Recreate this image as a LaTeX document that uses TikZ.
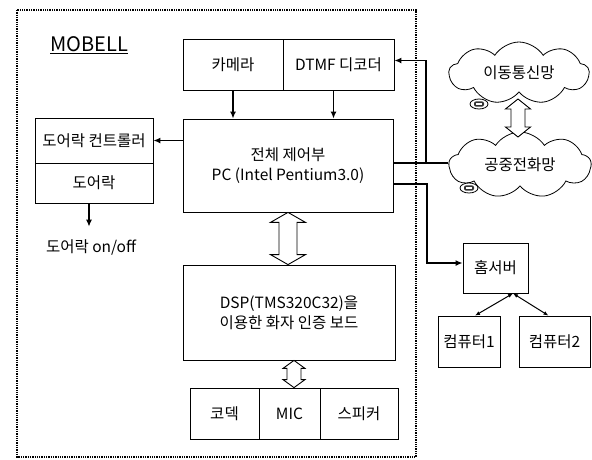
\documentclass[tikz,border=0pt]{standalone}
\usepackage{fontspec}
\setmainfont{Noto Sans CJK KR}
\usetikzlibrary{arrows.meta,shapes.symbols,calc}
% hollow double arrow: tip 1, tip 2, half head, half shaft, head length
\newcommand{\fatarrow}[5]{\draw[hollow] (#1) -- ($(#1)+(#3,#5)$) -- ($(#1)+(#4,#5)$) -- ($(#2)+(#4,-#5)$) -- ($(#2)+(#3,-#5)$) -- (#2) -- ($(#2)+(-#3,-#5)$) -- ($(#2)+(-#4,-#5)$) -- ($(#1)+(-#4,#5)$) -- ($(#1)+(-#3,#5)$) -- cycle;}
\begin{document}
\begin{tikzpicture}[x=1pt, y=-1pt]
\tikzset{blk/.style={draw, line width=0.8pt, inner sep=0pt, align=center, font=\fontsize{15.5}{20}\selectfont},
  lbl/.style={font=\fontsize{15.5}{20}\selectfont},
  net/.style={cloud, cloud puffs=9, cloud puff arc=115, cloud ignores aspect, draw, line width=0.8pt, inner sep=0pt, font=\fontsize{15.5}{20}\selectfont},
  conn/.style={line width=1.9pt}, tip/.style={-{Latex[length=7pt,width=6pt]}},
  hollow/.style={draw, line width=0.9pt, fill=white, line join=miter},
  phone/.pic={\draw[line width=0.8pt, fill=white] (0,0) ellipse [x radius=9, y radius=5]; \fill[black!80, rounded corners=2pt] (-5,-2.6) rectangle (5,2.6); \fill[white] (-3,-0.6) rectangle (3,0.6);}}
\useasboundingbox (0,0) rectangle (592,459);
% MOBELL frame
\draw[densely dotted, line width=1.3pt] (17,10) rectangle (416,457);
\node[font=\fontsize{20}{22}\selectfont] (title) at (89,45) {\underline{MOBELL}};
% inside blocks
\node[blk, minimum width=100pt, minimum height=51pt] (cam) at (233,64.5) {카메라};
\node[blk, minimum width=111pt, minimum height=51pt] (dtmf) at (338.5,64.5) {DTMF 디코더};
\node[blk, minimum width=210pt, minimum height=93pt] (pc) at (288,165.5) {전체 제어부\\PC (Intel Pentium3.0)};
\node[blk, minimum width=118pt, minimum height=45pt] (ctrl) at (94,140.5) {도어락 컨트롤러};
\node[blk, minimum width=118pt, minimum height=40pt] (lock) at (94,183) {도어락};
\node[lbl] (onoff) at (91,247) {도어락 on/off};
\node[blk, minimum width=212pt, minimum height=95pt] (dsp) at (289,312.5) {DSP(TMS320C32)을\\이용한 화자 인증 보드};
\node[blk, minimum width=69pt, minimum height=51pt] (codec) at (224.5,413.5) {코덱};
\node[blk, minimum width=61pt, minimum height=51pt] (mic) at (289.5,413.5) {MIC};
\node[blk, minimum width=78pt, minimum height=51pt] (spk) at (359,413.5) {스피커};
% networks and home server
\node[net, minimum width=140pt, minimum height=62pt] (mob) at (519,73) {이동통신망};
\node[net, minimum width=142pt, minimum height=66pt] (pstn) at (520,165) {공중전화망};
\pic at (479,104) {phone};
\pic at (469,188) {phone};
\node[blk, minimum width=65pt, minimum height=50pt] (srv) at (495.5,268) {홈서버};
\node[blk, minimum width=62pt, minimum height=51pt] (c1) at (469,341.5) {컴퓨터1};
\node[blk, minimum width=71pt, minimum height=51pt] (c2) at (554.5,341.5) {컴퓨터2};
% connectors
\draw[conn, tip] (cam.south) -- (cam.south |- pc.north);
\draw[conn, tip] ([xshift=-5pt]dtmf.south) -- ([xshift=-5pt]dtmf.south |- pc.north);
\draw[conn, tip] (pc.west |- ctrl.east) -- (ctrl.east);
\draw[conn, tip, shorten >=9pt] ([xshift=-5pt]lock.south) -- ([xshift=-5pt]lock.south |- onoff.north);
\coordinate (jn) at (426,163);
\draw[conn] (pc.east |- jn) -- (pstn.west |- jn);
\draw[conn, tip] (jn) |- ([yshift=4pt]dtmf.east);
\coordinate (bend) at (427,184);
\draw[conn, tip] (pc.east |- bend) -- (bend) |- ([yshift=5pt]srv.west);
\coordinate (hub) at ([xshift=17.5pt]srv.south);
\draw[line width=1pt, {Latex[length=5pt,width=4pt]}-{Latex[length=5pt,width=4pt]}] (hub) -- ([xshift=6pt]c1.north);
\draw[line width=1pt, {Latex[length=5pt,width=4pt]}-{Latex[length=5pt,width=4pt]}] (hub) -- ([xshift=-6pt]c2.north);
% hollow arrows
\coordinate (a1) at (pc.south); \coordinate (a2) at (pc.south |- dsp.north);
\fatarrow{a1}{a2}{17.5}{9}{10}
\coordinate (b1) at ([xshift=5pt]dsp.south); \coordinate (b2) at (b1 |- mic.north);
\fatarrow{b1}{b2}{11}{7}{8}
\coordinate (n1) at (518,99); \coordinate (n2) at (518,137);
\fatarrow{n1}{n2}{12.5}{7}{10}
\end{tikzpicture}
\end{document}
